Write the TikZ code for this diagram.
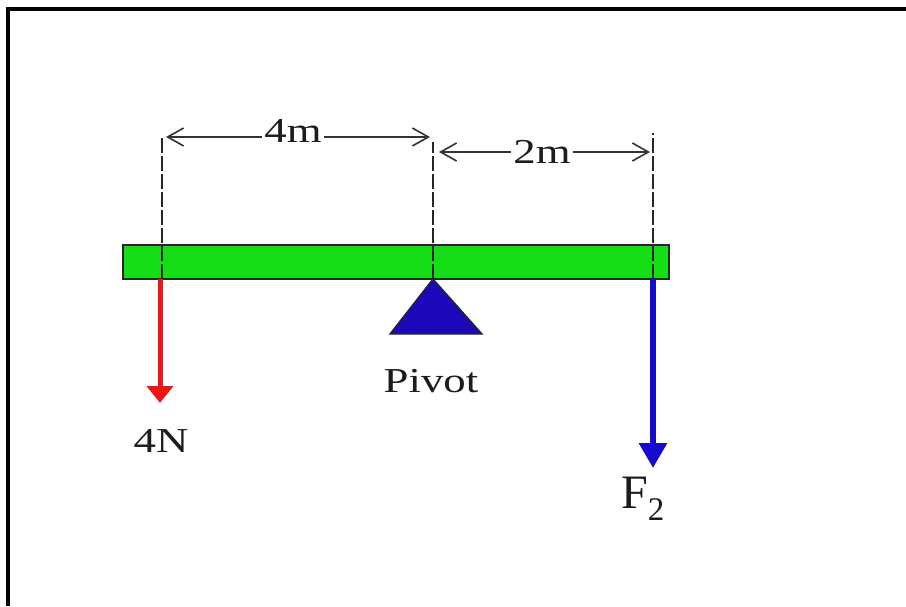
\documentclass[tikz,border=0pt]{standalone}
\usepackage{fontspec}
\setmainfont{Liberation Serif}[FakeStretch=1.28]
\newfontfamily\ffont{Liberation Serif}
\usetikzlibrary{arrows.meta}
\definecolor{beamgreen}{RGB}{22,222,22}
\definecolor{pivotblue}{RGB}{28,8,185}
\definecolor{forcered}{RGB}{240,22,22}
\definecolor{forceblue}{RGB}{22,10,205}
\definecolor{txt}{RGB}{28,28,28}
\tikzset{
  frameline/.style={line width=4.5pt, draw=black},
  beambox/.style={fill=beamgreen, draw=black!85, line width=2pt},
  guide/.style={draw=black!85, line width=1.6pt, dash pattern=on 15pt off 3pt},
  dimline/.style={draw=black!80, line width=1.6pt, {Straight Barb[length=16pt,width=18pt,line width=1.6pt]}-{Straight Barb[length=16pt,width=18pt,line width=1.6pt]}},
  lbl/.style={text=txt, inner sep=0pt, font=\fontsize{35}{40}\selectfont},
  redforce/.style={draw=forcered, line width=5pt, -{Triangle[length=17pt,width=26pt]}},
  blueforce/.style={draw=forceblue, line width=6pt, -{Triangle[length=25pt,width=27pt]}},
}
\begin{document}
\begin{tikzpicture}[x=1pt,y=-1pt]
\useasboundingbox (0,0) rectangle (906,606);
\draw[frameline] (8,606) -- (8,9) -- (906,9);
% beam
\draw[beambox] (123,245) rectangle (669,279);
% key points on beam underside
\coordinate (a) at (162,279);
\coordinate (p) at (433,279);
\coordinate (b) at (653,279);
\coordinate (atop) at (162,137);
\coordinate (ptop) at (433,142);
\coordinate (btop) at (653,133);
% dashed guides
\draw[guide] (a) -- (atop);
\draw[guide] (p) -- (ptop);
\draw[guide] (b) -- (btop);
% dimension arrows
\coordinate (d1l) at (166,137);
\coordinate (d1r) at (430,137);
\coordinate (d2l) at (439,152);
\coordinate (d2r) at (650,152);
\draw[dimline] (d1l) -- (d1r);
\draw[dimline] (d2l) -- (d2r);
\node[lbl, fill=white, anchor=base, inner xsep=2pt, inner ysep=0pt] (l4m) at (293,142) {4m};
\node[lbl, fill=white, anchor=base, inner xsep=2pt, inner ysep=0pt] (l2m) at (542,163) {2m};
% pivot
\coordinate (pl) at (390,334);
\coordinate (pr) at (482,334);
\draw[fill=pivotblue, draw=black!85, line width=1.4pt, line join=miter] (p) -- (pr) -- (pl) -- cycle;
\node[lbl, anchor=base] (piv) at (431,392) {Pivot};
% forces
\coordinate (rt) at (160,403);
\coordinate (bt) at (653,468);
\coordinate (as) at (160,279);
\draw[redforce] (as) -- (rt);
\draw[blueforce] (b) -- (bt);
\node[lbl, anchor=base] (n4) at (161,452) {4N};
\node[text=txt, inner sep=0pt, anchor=base west] (f2) at (621,508) {\ffont\fontsize{48}{50}\selectfont F\raisebox{-12pt}{\fontsize{33}{35}\selectfont 2}};
\end{tikzpicture}
\end{document}
